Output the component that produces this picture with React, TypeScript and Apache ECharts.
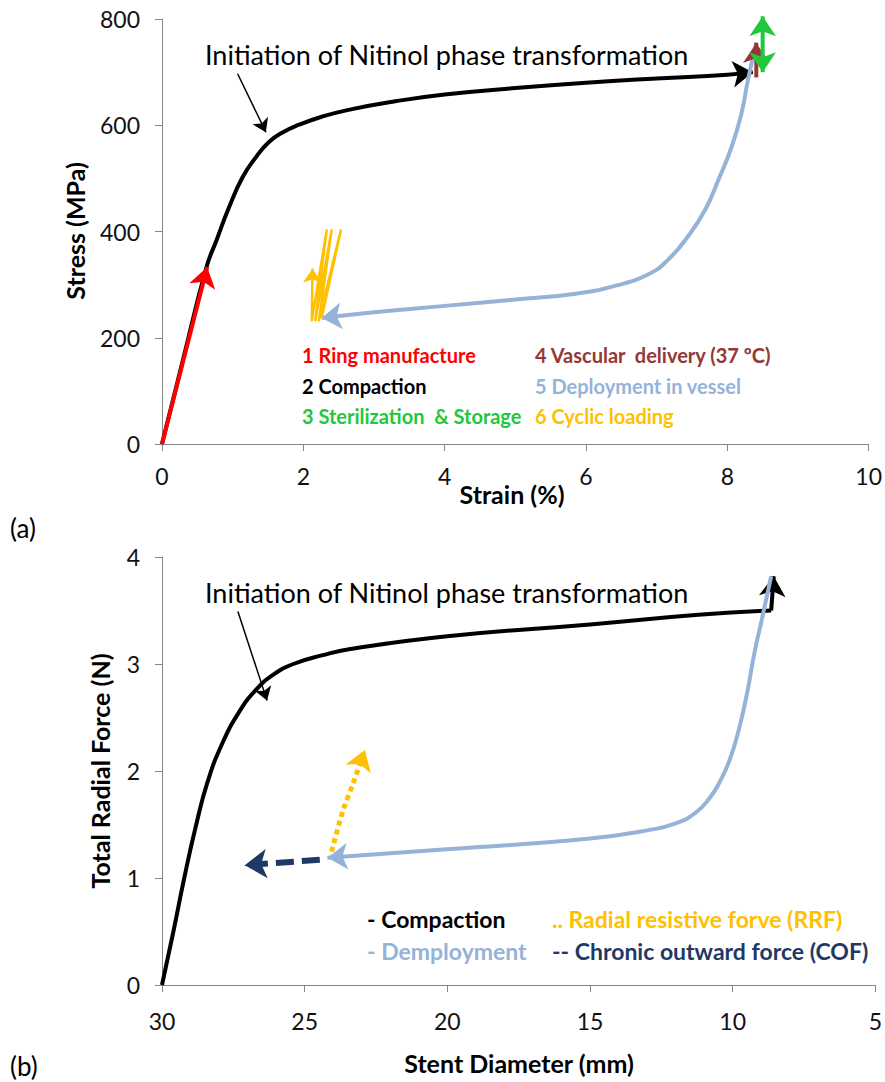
import React, { useEffect, useRef } from "react";
import * as echarts from "echarts";

const FONT = "Lato, 'Open Sans', sans-serif";

// ---------- Panel (a): Stress vs Strain ----------
const strainTicks = [0, 2, 4, 6, 8, 10];
const stressTicks = [0, 200, 400, 600, 800];
const ringManufacture = [[0, 0], [0.64, 333]];
const compactionA = [
  [0, 0], [0.3, 160], [0.63, 333], [0.77, 383], [0.95, 446], [1.14, 502], [1.33, 540],
  [1.51, 568], [1.7, 586], [1.94, 601], [2.26, 616], [2.64, 629], [3.3, 645], [4, 658],
  [5, 670], [6, 680], [7, 688], [8, 695], [8.36, 700],
];
const sterilization = [[8.5, 700], [8.5, 805]];
const vascularDelivery = [[8.41, 690], [8.41, 755]];
const deploymentA = [
  [8.41, 756], [8.29, 684], [8.2, 622], [8.06, 559], [7.87, 496], [7.69, 442], [7.45, 392],
  [7.17, 348], [6.89, 320], [6.42, 298], [5.86, 283], [5, 272], [4, 260], [3, 248], [2.26, 237],
];
const cyclicLoading = [
  [2.26, 237], [2.53, 402], [2.22, 233], [2.4, 402], [2.17, 233], [2.33, 402], [2.12, 233], [2.13, 330],
];
const annotationA = [[1.07, 697], [1.47, 587]];

// ---------- Panel (b): Radial force vs Diameter ----------
const diameterTicks = [30, 25, 20, 15, 10, 5];
const forceTicks = [0, 1, 2, 3, 4];
const compactionB = [
  [30, 0], [29.6, 0.5], [29.22, 1.0], [28.8, 1.5], [28.4, 1.9], [27.9, 2.25], [27.3, 2.55],
  [26.7, 2.76], [26.1, 2.9], [25.4, 3.0], [24.4, 3.08], [23.4, 3.14], [20, 3.26],
  [15, 3.37], [11.2, 3.46], [8.65, 3.5],
];
const compactionBEnd = [[8.65, 3.5], [8.56, 3.82]];
const deploymentB = [
  [8.65, 3.82], [8.95, 3.45], [9.24, 3.1], [9.5, 2.72], [9.8, 2.37], [10.11, 2.1], [10.45, 1.9],
  [10.8, 1.75], [11.3, 1.61], [12, 1.51], [12.9, 1.45], [15, 1.37], [19.9, 1.27], [24.2, 1.19],
];
const chronicOutward = [[24.47, 1.17], [27.1, 1.12]];
const radialResistive = [[24.06, 1.246], [23.65, 1.636], [23.3, 1.885], [22.89, 2.196]];
const annotationB = [[27.34, 3.49], [26.32, 2.66]];

const C = {
  red: "#ff0000",
  black: "#000000",
  green: "#22c83c",
  brown: "#953735",
  blue: "#95b3d7",
  orange: "#ffc000",
  navy: "#1f3864",
  axis: "#868686",
};

function line(data: number[][], g: number, color: string, width: number, z: number, extra: any = {}) {
  return {
    type: "line",
    xAxisIndex: g,
    yAxisIndex: g,
    data,
    symbol: "none",
    showSymbol: false,
    clip: false,
    silent: true,
    z,
    lineStyle: { color, width, cap: "butt", join: "round", ...(extra.lineStyle || {}) },
    smooth: extra.smooth ?? false,
  };
}

function head(data: number[][], g: number, color: string, size: number | number[], z: number, atStart = false) {
  const n = data.length;
  const p1 = atStart ? data[0] : data[n - 1];
  const p0 = atStart ? data[1] : data[n - 2];
  const a = [p1[0] - (p1[0] - p0[0]) * 0.05, p1[1] - (p1[1] - p0[1]) * 0.05];
  return {
    type: "lines",
    coordinateSystem: "cartesian2d",
    xAxisIndex: g,
    yAxisIndex: g,
    clip: false,
    silent: true,
    z,
    symbol: ["none", "arrow"],
    symbolSize: size,
    lineStyle: { color, width: 1, opacity: 1 },
    data: [{ coords: [a, p1] }],
  };
}

function axisCommon(margin: number) {
  return {
    axisLine: { show: true, lineStyle: { color: C.axis, width: 1 } },
    axisTick: { show: true, inside: false, length: 7, lineStyle: { color: C.axis } },
    splitLine: { show: false },
    axisLabel: { color: "#111", fontSize: 23, fontFamily: FONT, margin },
  };
}

function txt(text: string, x: number, y: number, fill: string, size: number, bold = false, extra: any = {}) {
  return {
    type: "text",
    x,
    y,
    silent: true,
    z: 100,
    ...extra,
    style: {
      text,
      fill,
      fontSize: size,
      fontFamily: FONT,
      fontWeight: bold ? "bold" : "normal",
      verticalAlign: "middle",
      align: extra.align || "left",
    },
  };
}

export default function App() {
  const ref = useRef<HTMLDivElement>(null);
  useEffect(() => {
    if (!ref.current) return;
    const chart = echarts.init(ref.current, undefined, { renderer: "svg" });
    const option: any = {
      animation: false,
      backgroundColor: "#ffffff",
      grid: [
        { left: 162, top: 19, width: 713, height: 425 },
        { left: 162, top: 557, width: 714, height: 428 },
      ],
      xAxis: [
        {
          type: "value", gridIndex: 0, min: strainTicks[0], max: strainTicks[strainTicks.length - 1], interval: 2,
          ...axisCommon(20),
        },
        {
          type: "value", gridIndex: 1, min: diameterTicks[diameterTicks.length - 1], max: diameterTicks[0], interval: 5,
          inverse: true, ...axisCommon(24),
        },
      ],
      yAxis: [
        {
          type: "value", gridIndex: 0, min: stressTicks[0], max: stressTicks[stressTicks.length - 1], interval: 200,
          ...axisCommon(22),
        },
        {
          type: "value", gridIndex: 1, min: forceTicks[0], max: forceTicks[forceTicks.length - 1], interval: 1,
          ...axisCommon(22),
        },
      ],
      series: [
        // Panel (a)
        line(compactionA, 0, C.black, 4, 10, { smooth: 0.5 }),
        head(compactionA, 0, C.black, [15, 20], 10),
        line(deploymentA, 0, C.blue, 4, 11, { smooth: 0.5 }),
        head(deploymentA, 0, C.blue, [15, 20], 11),
        line(cyclicLoading, 0, C.orange, 2.5, 12),
        head(cyclicLoading, 0, C.orange, [10, 14], 12),
        line(ringManufacture, 0, C.red, 4, 13),
        head(ringManufacture, 0, C.red, [15, 20], 13),
        line(vascularDelivery, 0, C.brown, 4, 14),
        head(vascularDelivery, 0, C.brown, [15, 20], 14),
        line(sterilization, 0, C.green, 4, 15),
        head(sterilization, 0, C.green, [15, 20], 15),
        head(sterilization, 0, C.green, [15, 20], 15, true),
        line(annotationA, 0, C.black, 1.5, 16),
        head(annotationA, 0, C.black, [9, 13], 16),
        // Panel (b)
        line(compactionB, 1, C.black, 4, 10, { smooth: 0.5 }),
        line(compactionBEnd, 1, C.black, 4, 10),
        head(compactionBEnd, 1, C.black, [15, 20], 10),
        line(deploymentB, 1, C.blue, 4, 11, { smooth: 0.5 }),
        head(deploymentB, 1, C.blue, [15, 20], 11),
        line(chronicOutward, 1, C.navy, 6, 12, { lineStyle: { type: [18, 8] } }),
        head(chronicOutward, 1, C.navy, [17, 22], 12),
        line(radialResistive, 1, C.orange, 5, 13, { smooth: 0.3, lineStyle: { type: [5, 4] } }),
        head(radialResistive, 1, C.orange, [15, 20], 13),
        line(annotationB, 1, C.black, 1.5, 16),
        head(annotationB, 1, C.black, [9, 13], 16),
      ],
      graphic: [
        // Panel (a) texts
        txt("Initiation of Nitinol phase transformation", 205, 54, C.black, 27),
        txt("1 Ring manufacture", 302, 355, C.red, 20, true),
        txt("2 Compaction", 302, 386, C.black, 20, true),
        txt("3 Sterilization  & Storage", 302, 416, C.green, 20, true),
        txt("4 Vascular  delivery (37 ºC)", 535, 355, C.brown, 20, true),
        txt("5 Deployment in vessel", 535, 386, C.blue, 20, true),
        txt("6 Cyclic loading", 535, 416, C.orange, 20, true),
        txt("Stress (MPa)", 75, 231, C.black, 25, true, { rotation: Math.PI / 2, align: "center" }),
        txt("Strain (%)", 512, 494, C.black, 25, true, { align: "center" }),
        txt("(a)", 10, 528, C.black, 26),
        // Panel (b) texts
        txt("Initiation of Nitinol phase transformation", 205, 592, C.black, 27),
        txt("- Compaction", 367, 919, C.black, 23, true),
        txt("- Demployment", 367, 951, C.blue, 23, true),
        txt(".. Radial resistive forve (RRF)", 552, 919, C.orange, 23, true),
        txt("-- Chronic outward force (COF)", 552, 951, C.navy, 23, true),
        txt("Total Radial Force (N)", 100, 771, C.black, 25, true, { rotation: Math.PI / 2, align: "center" }),
        txt("Stent Diameter (mm)", 519, 1063, C.black, 25, true, { align: "center" }),
        txt("(b)", 10, 1066, C.black, 26),
      ],
    };
    chart.setOption(option);
    return () => chart.dispose();
  }, []);
  return (
    <div
      ref={ref}
      style={{ position: "absolute", left: 0, top: 0, width: 885, height: 1082, background: "#fff" }}
    />
  );
}
